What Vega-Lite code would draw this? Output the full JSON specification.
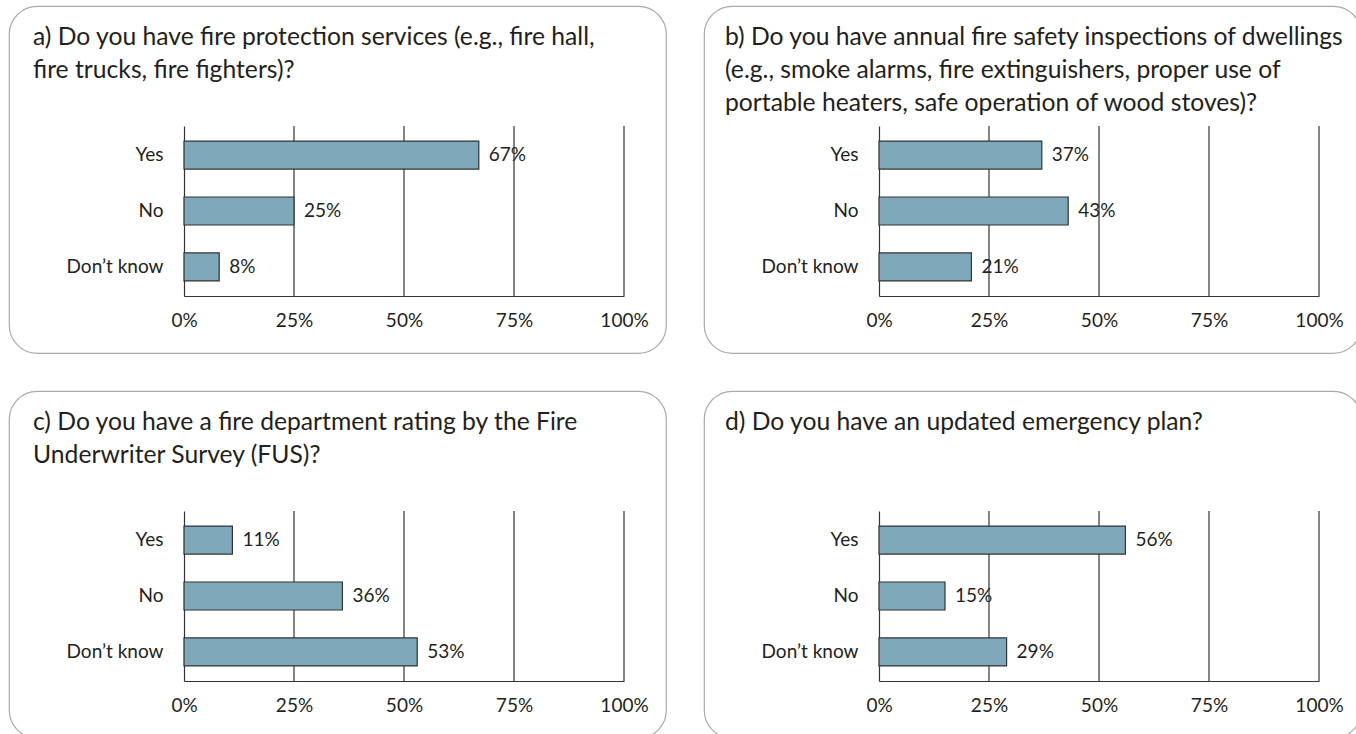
{
  "$schema": "https://vega.github.io/schema/vega-lite/v6.json",
  "padding": {"left": 8, "top": 5, "right": 0, "bottom": 0},
  "background": "white",
  "config": {
    "font": "Lato",
    "view": {"stroke": "#ababab", "strokeWidth": 1.2, "cornerRadius": 28, "fill": "white"},
    "title": {"anchor": "start", "frame": "group", "fontSize": 24.7, "fontWeight": "normal", "color": "#231f20", "lineHeight": 33, "dx": 24},
    "axisX": {"orient": "bottom", "offset": -57, "ticks": false, "grid": false, "domainColor": "#333333", "domainWidth": 1.2, "labelFlush": false, "labelPadding": 15, "labelFontSize": 19, "labelColor": "#231f20", "title": null},
    "axisY": {"orient": "left", "offset": -175, "ticks": false, "grid": false, "domainColor": "#333333", "domainWidth": 1.2, "labelPadding": 21, "labelFontSize": 19, "labelColor": "#231f20", "title": null},
    "text": {"fontSize": 19, "color": "#231f20"},
    "rule": {"color": "#333333", "strokeWidth": 1.2},
    "bar": {"fill": "#7fa9bb", "stroke": "#333333", "strokeWidth": 1.2}
  },
  "spacing": 36,
  "vconcat": [
    {
      "spacing": 36,
      "hconcat": [
        {
          "width": 657, "height": 347,
          "title": {"text": ["a) Do you have fire protection services (e.g., fire hall,", "fire trucks, fire fighters)?"], "offset": -77},
          "resolve": {"scale": {"y": "independent"}},
          "layer": [
            {
              "data": {"values": [{"t": 0.25}, {"t": 0.5}, {"t": 0.75}, {"t": 1}]},
              "mark": "rule",
              "encoding": {
                "x": {"field": "t", "type": "quantitative", "scale": {"domain": [0, 1], "range": [175, 615]}, "axis": {"values": [0, 0.25, 0.5, 0.75, 1], "format": ".0%"}},
                "y": {"datum": 0, "type": "quantitative", "scale": {"domain": [0, 1], "range": [120, 290]}, "axis": null},
                "y2": {"datum": 1}
              }
            },
            {
              "data": {"values": [{"answer": "Yes", "share": 0.67}, {"answer": "No", "share": 0.25}, {"answer": "Don’t know", "share": 0.08}]},
              "encoding": {
                "y": {"field": "answer", "type": "nominal", "sort": null, "scale": {"range": [120, 290], "paddingInner": 0.5, "paddingOuter": 0.27}},
                "x": {"field": "share", "type": "quantitative"}
              },
              "layer": [
                {"mark": "bar"},
                {"mark": {"type": "text", "align": "left", "dx": 10}, "encoding": {"text": {"field": "share", "format": ".0%"}}}
              ]
            }
          ]
        },
        {
          "width": 657, "height": 347,
          "title": {"text": ["b) Do you have annual fire safety inspections of dwellings", "(e.g., smoke alarms, fire extinguishers, proper use of", "portable heaters, safe operation of wood stoves)?"], "offset": -110, "dx": 21},
          "resolve": {"scale": {"y": "independent"}},
          "layer": [
            {
              "data": {"values": [{"t": 0.25}, {"t": 0.5}, {"t": 0.75}, {"t": 1}]},
              "mark": "rule",
              "encoding": {
                "x": {"field": "t", "type": "quantitative", "scale": {"domain": [0, 1], "range": [175, 615]}, "axis": {"values": [0, 0.25, 0.5, 0.75, 1], "format": ".0%"}},
                "y": {"datum": 0, "type": "quantitative", "scale": {"domain": [0, 1], "range": [120, 290]}, "axis": null},
                "y2": {"datum": 1}
              }
            },
            {
              "data": {"values": [{"answer": "Yes", "share": 0.37}, {"answer": "No", "share": 0.43}, {"answer": "Don’t know", "share": 0.21}]},
              "encoding": {
                "y": {"field": "answer", "type": "nominal", "sort": null, "scale": {"range": [120, 290], "paddingInner": 0.5, "paddingOuter": 0.27}},
                "x": {"field": "share", "type": "quantitative"}
              },
              "layer": [
                {"mark": "bar"},
                {"mark": {"type": "text", "align": "left", "dx": 10}, "encoding": {"text": {"field": "share", "format": ".0%"}}}
              ]
            }
          ]
        }
      ]
    },
    {
      "spacing": 36,
      "hconcat": [
        {
          "width": 657, "height": 347,
          "title": {"text": ["c) Do you have a fire department rating by the Fire", "Underwriter Survey (FUS)?"], "offset": -77},
          "resolve": {"scale": {"y": "independent"}},
          "layer": [
            {
              "data": {"values": [{"t": 0.25}, {"t": 0.5}, {"t": 0.75}, {"t": 1}]},
              "mark": "rule",
              "encoding": {
                "x": {"field": "t", "type": "quantitative", "scale": {"domain": [0, 1], "range": [175, 615]}, "axis": {"values": [0, 0.25, 0.5, 0.75, 1], "format": ".0%"}},
                "y": {"datum": 0, "type": "quantitative", "scale": {"domain": [0, 1], "range": [120, 290]}, "axis": null},
                "y2": {"datum": 1}
              }
            },
            {
              "data": {"values": [{"answer": "Yes", "share": 0.11}, {"answer": "No", "share": 0.36}, {"answer": "Don’t know", "share": 0.53}]},
              "encoding": {
                "y": {"field": "answer", "type": "nominal", "sort": null, "scale": {"range": [120, 290], "paddingInner": 0.5, "paddingOuter": 0.27}},
                "x": {"field": "share", "type": "quantitative"}
              },
              "layer": [
                {"mark": "bar"},
                {"mark": {"type": "text", "align": "left", "dx": 10}, "encoding": {"text": {"field": "share", "format": ".0%"}}}
              ]
            }
          ]
        },
        {
          "width": 657, "height": 347,
          "title": {"text": ["d) Do you have an updated emergency plan?"], "offset": -44, "dx": 21},
          "resolve": {"scale": {"y": "independent"}},
          "layer": [
            {
              "data": {"values": [{"t": 0.25}, {"t": 0.5}, {"t": 0.75}, {"t": 1}]},
              "mark": "rule",
              "encoding": {
                "x": {"field": "t", "type": "quantitative", "scale": {"domain": [0, 1], "range": [175, 615]}, "axis": {"values": [0, 0.25, 0.5, 0.75, 1], "format": ".0%"}},
                "y": {"datum": 0, "type": "quantitative", "scale": {"domain": [0, 1], "range": [120, 290]}, "axis": null},
                "y2": {"datum": 1}
              }
            },
            {
              "data": {"values": [{"answer": "Yes", "share": 0.56}, {"answer": "No", "share": 0.15}, {"answer": "Don’t know", "share": 0.29}]},
              "encoding": {
                "y": {"field": "answer", "type": "nominal", "sort": null, "scale": {"range": [120, 290], "paddingInner": 0.5, "paddingOuter": 0.27}},
                "x": {"field": "share", "type": "quantitative"}
              },
              "layer": [
                {"mark": "bar"},
                {"mark": {"type": "text", "align": "left", "dx": 10}, "encoding": {"text": {"field": "share", "format": ".0%"}}}
              ]
            }
          ]
        }
      ]
    }
  ]
}
